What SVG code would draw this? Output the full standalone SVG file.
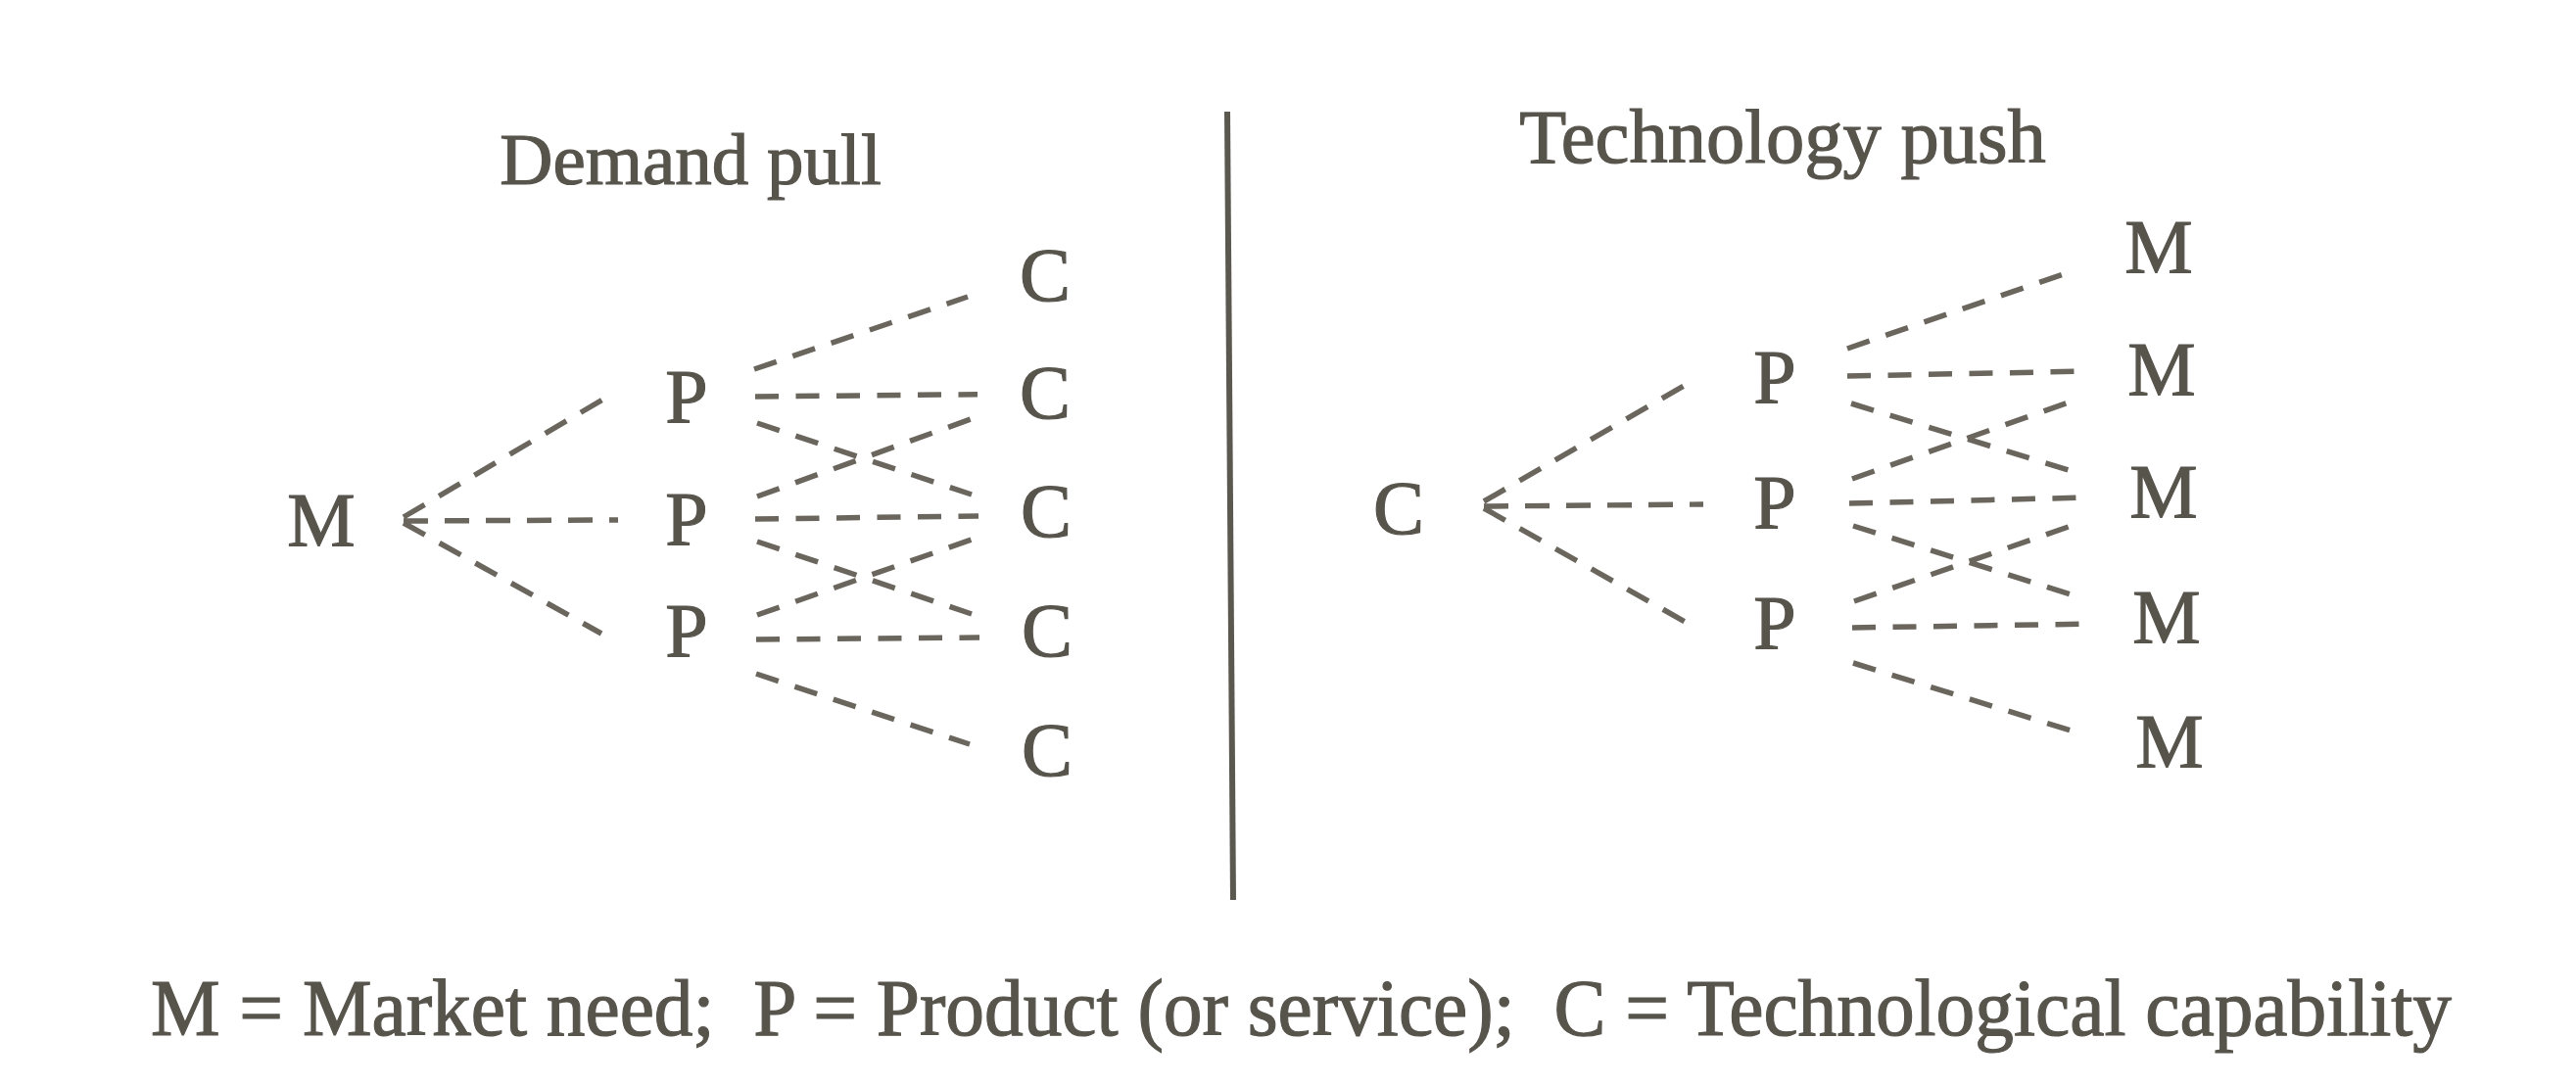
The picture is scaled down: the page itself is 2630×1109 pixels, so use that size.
<svg xmlns="http://www.w3.org/2000/svg" width="2630" height="1109" viewBox="0 0 2630 1109">
<style>
text{font-family:"Liberation Serif","Times New Roman",serif;fill:#57544c;stroke:#57544c;stroke-width:1.2}
.n{font-size:78px;text-anchor:middle}
.d{stroke:#6a665d;stroke-width:5.5;stroke-dasharray:24 17.5;fill:none}
.a{stroke:#6a665d;stroke-width:5.5;stroke-dasharray:25 17;fill:none}
</style>
<rect width="2630" height="1109" fill="#ffffff"/>
<text x="705" y="188" font-size="75" text-anchor="middle">Demand pull</text>
<text x="1820" y="166" font-size="78.5" text-anchor="middle">Technology push</text>
<line x1="1253" y1="114" x2="1259" y2="919" stroke="#5b5850" stroke-width="6"/>
<g id="connectors">
<path class="a" d="M412 528L617 407M412 532L631 531M412 534L614 647"/>
<path class="d" d="M770 377L988 303M771 405L998 402.7M773 432L992 505M773 507L991 428M771 530L999 527M773 553L992 627M773 628L992 551M772 653L1000 651M772 688L990 760"/>
<path class="a" d="M1515 512L1721 393M1515 517L1739 515M1515 519L1724 637"/>
<path class="d" d="M1886 356L2118 276M1886 384L2132 379M1890 412L2125 484M1891 489L2123 407M1888 514L2133 508M1892 537L2127 611M1893 614L2126 533M1891 641L2137 637M1892 677L2127 750"/>
</g>
<g id="n-M"><text class="n" x="328" y="557">M</text></g>
<g id="n-P1"><text class="n" x="701" y="431">P</text></g>
<g id="n-P2"><text class="n" x="701" y="556">P</text></g>
<g id="n-P3"><text class="n" x="701" y="670">P</text></g>
<g id="n-C1"><text class="n" x="1067" y="307">C</text></g>
<g id="n-C2"><text class="n" x="1067" y="427">C</text></g>
<g id="n-C3"><text class="n" x="1068" y="548">C</text></g>
<g id="n-C4"><text class="n" x="1069" y="670">C</text></g>
<g id="n-C5"><text class="n" x="1069" y="792">C</text></g>
<g id="n-C"><text class="n" x="1428" y="545">C</text></g>
<g id="n-Q1"><text class="n" x="1812" y="411">P</text></g>
<g id="n-Q2"><text class="n" x="1812" y="539">P</text></g>
<g id="n-Q3"><text class="n" x="1812" y="662">P</text></g>
<g id="n-M1"><text class="n" x="2204" y="278">M</text></g>
<g id="n-M2"><text class="n" x="2207" y="403">M</text></g>
<g id="n-M3"><text class="n" x="2209" y="528">M</text></g>
<g id="n-M4"><text class="n" x="2212" y="656">M</text></g>
<g id="n-M5"><text class="n" x="2215" y="783">M</text></g>
<text x="154" y="1057" font-size="82" xml:space="preserve" textLength="2349" lengthAdjust="spacingAndGlyphs">M = Market need;  P = Product (or service);  C = Technological capability</text>
</svg>
